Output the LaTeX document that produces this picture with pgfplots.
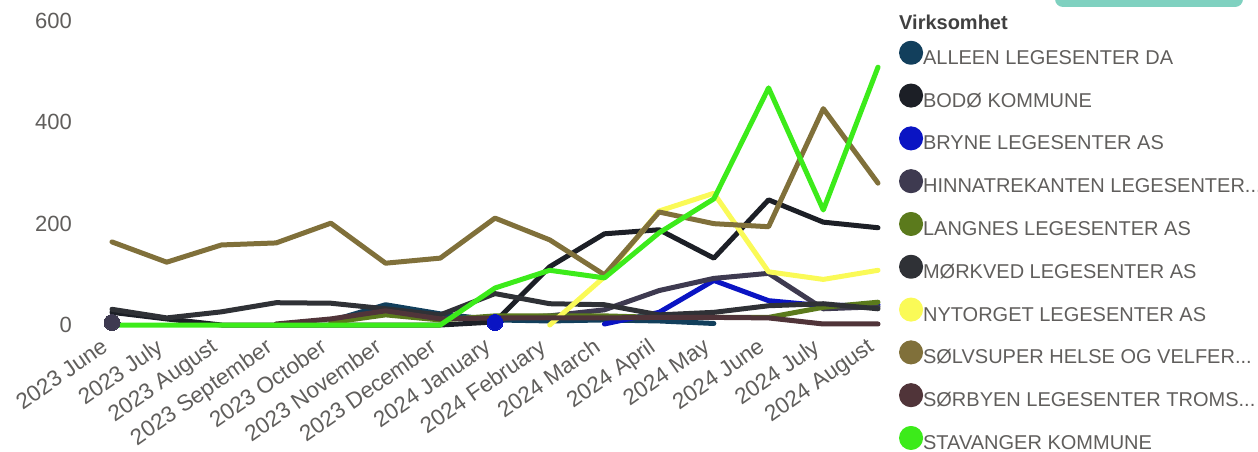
\documentclass[border=0pt]{standalone}
\usepackage{fontspec}
\setmainfont{Liberation Sans}
\usepackage{pgfplots}
\usepackage{pgfplotstable}
\pgfplotsset{compat=1.18}
\definecolor{cAlleen}{HTML}{123F5C}
\definecolor{cBodo}{HTML}{1C1F26}
\definecolor{cBryne}{HTML}{0A14C3}
\definecolor{cHinna}{HTML}{3E3A50}
\definecolor{cLangnes}{HTML}{5B7A1C}
\definecolor{cMorkved}{HTML}{2F3136}
\definecolor{cNytorget}{HTML}{FAFA57}
\definecolor{cSolv}{HTML}{80703A}
\definecolor{cSorbyen}{HTML}{503439}
\definecolor{cStav}{HTML}{3CEB1A}
\definecolor{cTeal}{HTML}{7FD1C0}
\definecolor{tickgray}{HTML}{605E5C}
\definecolor{titlegray}{HTML}{404040}

\pgfplotstableread{
x  alleen bodo bryne hinna langnes morkved nytorget solv sorbyen stav
0  nan    25   nan   5     nan     31      nan      164  nan     0
1  nan    12   nan   nan   nan     14      nan      124  nan     0
2  nan    0    nan   nan   nan     26      nan      158  nan     0
3  nan    0    nan   nan   nan     44      nan      162  2       0
4  8      0    nan   nan   5       43      nan      201  12      0
5  40     0    nan   nan   20      32      nan      122  28      0
6  22     0    nan   nan   10      20      nan      132  12      0
7  10     6    5     12    18      62      nan      211  14      73
8  8      115  nan   18    18      42      0        168  14      108
9  10     180  2     30    18      40      95       99   14      93
10 8      188  25    68    15      20      225      223  15      182
11 3      132  88    92    15      25      260      200  15      249
12 nan    247  48    102   15      38      105      194  14      468
13 nan    203  38    32    35      42      90       427  2       227
14 nan    192  40    36    45      32      108      280  2       509
}\data

\pgfplotstableread{
x y
0 5
}\hinnadot
\pgfplotstableread{
x y
7 5
}\brynedot

\begin{document}
\begin{tikzpicture}[x=1pt,y=1pt]
\path[use as bounding box] (0,0) rectangle (1258,451);
\fill[cTeal, rounded corners=8pt] (1055,444) rectangle (1243,480);
\node[anchor=west, inner sep=0pt, font=\bfseries\fontsize{20}{24}\selectfont, text=titlegray] at (899,429) {Virksomhet};
\begin{axis}[
  at={(112pt,126pt)}, anchor=south west,
  scale only axis, width=766pt, height=304pt,
  xmin=0, xmax=14, ymin=0, ymax=600,
  clip=false,
  unbounded coords=jump,
  axis line style={draw=none},
  major tick length=0pt,
  xtick={0,...,14},
  xticklabels={2023 June,2023 July,2023 August,2023 September,2023 October,2023 November,2023 December,2024 January,2024 February,2024 March,2024 April,2024 May,2024 June,2024 July,2024 August},
  ytick={0,200,400,600},
  /pgf/number format/assume math mode=true,
  yticklabel style={font=\fontsize{22}{26}\selectfont, text=tickgray, anchor=east, inner sep=0pt, xshift=-40pt},
  xticklabel style={font=\fontsize{22.5}{26}\selectfont, text=tickgray, inner sep=0pt, xshift=-12pt, yshift=-12pt, rotate=35, anchor=north east},
  every axis plot/.append style={line width=5pt, line join=round, line cap=round},
  legend image code/.code={\fill[#1] (0pt,7pt) circle (9.5pt);},
  legend style={draw=none, fill=none, inner sep=0pt, outer sep=0pt,
    at={(axis description cs:1.0275,0.935)}, anchor=north west,
    font=\fontsize{20}{24}\selectfont, text=tickgray,
    row sep=14.3pt,
    nodes={inner sep=0pt, text height=14pt, text depth=5pt, anchor=west},
    /tikz/every odd column/.append style={column sep=0pt}},
  legend cell align=left,
]
\addplot[color=cAlleen] table[x=x,y=alleen] {\data};
\addlegendentry{ALLEEN LEGESENTER DA}
\addplot[color=cBodo] table[x=x,y=bodo] {\data};
\addlegendentry{BODØ KOMMUNE}
\addplot[color=cBryne] table[x=x,y=bryne] {\data};
\addlegendentry{BRYNE LEGESENTER AS}
\addplot[color=cHinna] table[x=x,y=hinna] {\data};
\addlegendentry{HINNATREKANTEN LEGESENTER...}
\addplot[color=cLangnes] table[x=x,y=langnes] {\data};
\addlegendentry{LANGNES LEGESENTER AS}
\addplot[color=cMorkved] table[x=x,y=morkved] {\data};
\addlegendentry{MØRKVED LEGESENTER AS}
\addplot[color=cNytorget] table[x=x,y=nytorget] {\data};
\addlegendentry{NYTORGET LEGESENTER AS}
\addplot[color=cSolv] table[x=x,y=solv] {\data};
\addlegendentry{SØLVSUPER HELSE OG VELFER...}
\addplot[color=cSorbyen] table[x=x,y=sorbyen] {\data};
\addlegendentry{SØRBYEN LEGESENTER TROMS...}
\addplot[color=cStav] table[x=x,y=stav] {\data};
\addlegendentry{STAVANGER KOMMUNE}
\addplot[forget plot, only marks, mark=*, mark size=8pt, color=cHinna, line width=0pt] table[x=x,y=y] {\hinnadot};
\addplot[forget plot, only marks, mark=*, mark size=8pt, color=cBryne, line width=0pt] table[x=x,y=y] {\brynedot};
\end{axis}
\end{tikzpicture}
\end{document}
